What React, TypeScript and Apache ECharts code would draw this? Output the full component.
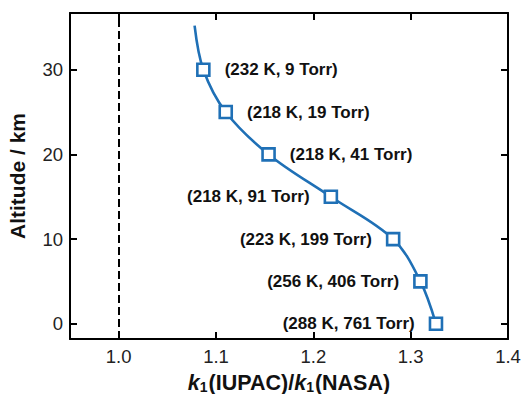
import React, { useEffect, useRef } from "react";
import * as echarts from "echarts";

const altitudes = [0, 5, 10, 15, 20, 25, 30];
const ratios = [1.326, 1.31, 1.282, 1.218, 1.154, 1.11, 1.087];
const temperatures = [288, 256, 223, 218, 218, 218, 232];
const pressures = [761, 406, 199, 91, 41, 19, 9];
const curveTopAltitude = 35.2;
const curveTopRatio = 1.078;
const xTicks = [1.0, 1.1, 1.2, 1.3, 1.4];
const yTicks = [0, 10, 20, 30];
const referenceRatio = 1.0;

const BLUE = "#1f70b6";
const FONT = "'Liberation Sans', Arial, sans-serif";

export default function App() {
  const ref = useRef<HTMLDivElement>(null);
  useEffect(() => {
    if (!ref.current) return;
    const chart = echarts.init(ref.current, null, { renderer: "svg" });
    const curveData = altitudes.map((a, i) => [ratios[i], a]);
    curveData.push([curveTopRatio, curveTopAltitude]);
    const pointData = altitudes.map((a, i) => ({
      value: [ratios[i], a],
      label: {
        position: a >= 20 ? "right" : "left",
        formatter: `(${temperatures[i]} K, ${pressures[i]} Torr)`,
      },
    }));
    const axisLineStyle = { color: "#000", width: 2 };
    const tickStyle = { color: "#000", width: 2 };
    chart.setOption({
      animation: false,
      grid: { left: 70, right: 15, top: 13, bottom: 55, outerBoundsMode: "none", containLabel: false },
      xAxis: [
        {
          type: "value",
          min: 0.95,
          max: 1.4,
          position: "bottom",
          axisLine: { show: true, onZero: false, lineStyle: axisLineStyle },
          axisTick: { show: true, inside: true, length: 7, lineStyle: tickStyle, customValues: xTicks },
          axisLabel: {
            customValues: xTicks,
            formatter: (v: number) => v.toFixed(1),
            fontSize: 18.5,
            color: "#222",
            fontFamily: FONT,
            margin: 8,
          },
          splitLine: { show: false },
          name: "{k|k}{sub|1}{n|(IUPAC)/}{k|k}{sub|1}{n|(NASA)}",
          nameLocation: "middle",
          nameGap: 33,
          nameTextStyle: {
            rich: {
              k: { fontSize: 21.5, fontWeight: "bold", fontStyle: "italic", fontFamily: FONT, color: "#111", verticalAlign: "bottom", lineHeight: 22 },
              sub: { fontSize: 14, fontWeight: "bold", fontFamily: FONT, color: "#111", verticalAlign: "bottom", lineHeight: 8, padding: [0, 1, 0, 0] },
              n: { fontSize: 21.5, fontWeight: "bold", fontFamily: FONT, color: "#111", verticalAlign: "bottom", lineHeight: 22 },
            },
          },
        },
        {
          type: "value",
          min: 0.95,
          max: 1.4,
          position: "top",
          axisLine: { show: true, onZero: false, lineStyle: axisLineStyle },
          axisTick: { show: true, inside: true, length: 7, lineStyle: tickStyle, customValues: xTicks },
          axisLabel: { show: false },
          splitLine: { show: false },
        },
      ],
      yAxis: [
        {
          type: "value",
          min: -1.8,
          max: 36.7,
          position: "left",
          axisLine: { show: true, onZero: false, lineStyle: axisLineStyle },
          axisTick: { show: true, inside: true, length: 7, lineStyle: tickStyle, customValues: yTicks },
          axisLabel: {
            customValues: yTicks,
            fontSize: 18.5,
            color: "#222",
            fontFamily: FONT,
            margin: 7,
          },
          splitLine: { show: false },
          name: "Altitude / km",
          nameLocation: "middle",
          nameGap: 42,
          nameTextStyle: { fontSize: 21, fontWeight: "bold", fontFamily: FONT, color: "#111" },
        },
        {
          type: "value",
          min: -1.8,
          max: 36.7,
          position: "right",
          axisLine: { show: true, onZero: false, lineStyle: axisLineStyle },
          axisTick: { show: true, inside: true, length: 7, lineStyle: tickStyle, customValues: yTicks },
          axisLabel: { show: false },
          splitLine: { show: false },
        },
      ],
      series: [
        {
          type: "line",
          data: curveData,
          smooth: 0.35,
          showSymbol: false,
          symbol: "none",
          lineStyle: { color: BLUE, width: 2.6 },
          markLine: {
            silent: true,
            symbol: "none",
            label: { show: false },
            lineStyle: { color: "#000", type: [8, 4], width: 2 },
            data: [{ xAxis: referenceRatio }],
          },
          z: 2,
        },
        {
          type: "scatter",
          data: pointData,
          symbol: "rect",
          symbolSize: 12,
          itemStyle: { color: "#fff", borderColor: BLUE, borderWidth: 2.6, opacity: 1 },
          label: {
            show: true,
            distance: 14,
            fontSize: 17,
            fontWeight: "bold",
            fontFamily: FONT,
            color: "#111",
          },
          z: 3,
        },
      ],
    });
    return () => chart.dispose();
  }, []);
  return (
    <div
      ref={ref}
      style={{ position: "fixed", left: 0, top: 0, width: 523, height: 394, background: "#fff" }}
    />
  );
}
